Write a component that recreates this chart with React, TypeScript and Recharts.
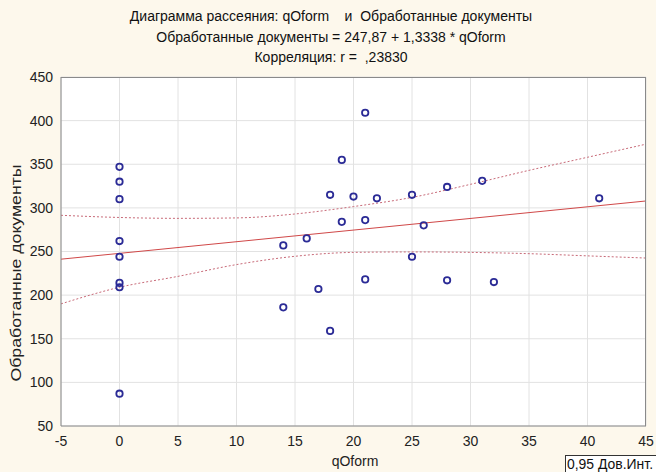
import React from "react";
import {
  ComposedChart,
  Scatter,
  Line,
  XAxis,
  YAxis,
  CartesianGrid,
} from "recharts";

// ---------------------------------------------------------------------------
// Data
// ---------------------------------------------------------------------------

const qOform = [
  0, 0, 0, 0, 0, 0, 0, 0, 14, 14, 16, 17, 18, 18, 19, 19, 20, 21, 21, 21, 22,
  25, 25, 26, 28, 28, 31, 32, 41,
];
const docs = [
  347, 330, 310, 262, 244, 214, 209, 87, 257, 186, 265, 207, 315, 159, 355,
  284, 313, 409, 286, 218, 311, 315, 244, 280, 324, 217, 331, 215, 311,
];

// regression line end points (247,87 + 1,3338 * qOform)
const fitX = [-5, 45];
const fitY = [241.2, 307.9];

// 0,95 confidence band
const bandX = [-5, 0, 5, 10, 15, 20, 25, 30, 35, 40, 45];
const bandUpper = [291.5, 289, 288, 288.5, 293, 301.5, 312, 327, 343, 358, 373];
const bandLower = [190, 209, 221.5, 235, 244.5, 249, 249.5, 249, 247.5, 245, 242.5];

const xTicks = [-5, 0, 5, 10, 15, 20, 25, 30, 35, 40, 45];
const yTicks = [50, 100, 150, 200, 250, 300, 350, 400, 450];

const titleLines = [
  "Диаграмма рассеяния: qOform    и  Обработанные документы",
  "Обработанные документы = 247,87 + 1,3338 * qOform",
  "Корреляция: r =  ,23830",
];

// ---------------------------------------------------------------------------

const FONT = '"Liberation Sans", Arial, sans-serif';
const BG = "#fdf8ec";

const points = qOform.map((x, i) => ({ x, y: docs[i] }));
const fitLine = fitX.map((x, i) => ({ x, y: fitY[i] }));
const upperLine = bandX.map((x, i) => ({ x, y: bandUpper[i] }));
const lowerLine = bandX.map((x, i) => ({ x, y: bandLower[i] }));

const Ring = (props: any) => (
  <circle
    cx={props.cx}
    cy={props.cy}
    r={3.2}
    fill="none"
    stroke="#2b2b96"
    strokeWidth={1.8}
  />
);

const YLabel = () => {
  const cx = 16;
  const cy = 273;
  return (
    <text
      x={cx}
      y={cy}
      transform={`rotate(-90, ${cx}, ${cy})`}
      textAnchor="middle"
      dominantBaseline="central"
      fontSize={14}
      fontFamily={FONT}
      fill="#222"
      textLength={217}
      lengthAdjust="spacingAndGlyphs"
    >
      Обработанные документы
    </text>
  );
};

export default function App() {
  const tickStyle = { fontSize: 14, fontFamily: FONT, fill: "#222" };
  return (
    <div
      style={{
        position: "absolute",
        left: 0,
        top: 0,
        width: 656,
        height: 472,
        background: BG,
        fontFamily: FONT,
        overflow: "hidden",
      }}
    >
      {titleLines.map((t, i) => (
        <div
          key={i}
          style={{
            position: "absolute",
            left: 0,
            width: 662,
            top: 8 + i * 20.5,
            textAlign: "center",
            fontSize: 14,
            color: "#111",
            whiteSpace: "pre",
          }}
        >
          {t}
        </div>
      ))}

      <ComposedChart
        width={656}
        height={472}
        margin={{ top: 77, right: 10, bottom: 0, left: 0 }}
        style={{ position: "absolute", left: 0, top: 0 }}
      >
        <CartesianGrid stroke="#e2e2e2" fill="#ffffff" />
        <XAxis
          type="number"
          dataKey="x"
          domain={[-5, 45]}
          ticks={xTicks}
          allowDataOverflow
          height={46}
          tick={tickStyle}
          tickLine={false}
          tickMargin={4}
          axisLine={{ stroke: "#8a8a8a" }}
        />
        <YAxis
          type="number"
          dataKey="y"
          domain={[50, 450]}
          ticks={yTicks}
          allowDataOverflow
          width={61}
          tick={tickStyle}
          tickLine={false}
          axisLine={{ stroke: "#8a8a8a" }}
          label={<YLabel />}
        />
        <Line
          data={upperLine}
          dataKey="y"
          type="monotone"
          stroke="#c86a78"
          strokeWidth={1}
          strokeDasharray="2 2"
          dot={false}
          activeDot={false}
          isAnimationActive={false}
        />
        <Line
          data={lowerLine}
          dataKey="y"
          type="monotone"
          stroke="#c86a78"
          strokeWidth={1}
          strokeDasharray="2 2"
          dot={false}
          activeDot={false}
          isAnimationActive={false}
        />
        <Line
          data={fitLine}
          dataKey="y"
          type="linear"
          stroke="#d04848"
          strokeWidth={1}
          dot={false}
          activeDot={false}
          isAnimationActive={false}
        />
        <Scatter
          data={points}
          dataKey="y"
          shape={<Ring />}
          isAnimationActive={false}
        />
      </ComposedChart>

      {/* right and top frame of the plot area */}
      <div
        style={{
          position: "absolute",
          left: 61,
          top: 77,
          width: 585,
          height: 349,
          borderTop: "1px solid #8a8a8a",
          borderRight: "1px solid #8a8a8a",
          boxSizing: "border-box",
          pointerEvents: "none",
        }}
      />

      <div
        style={{
          position: "absolute",
          left: 0,
          width: 710,
          top: 453,
          textAlign: "center",
          fontSize: 14,
          color: "#222",
        }}
      >
        qOform
      </div>

      <svg
        width={91}
        height={17}
        style={{ position: "absolute", left: 565, top: 455 }}
      >
        <rect x={0.5} y={0.5} width={100} height={30} fill="#ffffff" stroke="#333" />
        <text
          x={2}
          y={14}
          fontSize={14}
          fontFamily={FONT}
          fill="#111"
          textLength={86}
          lengthAdjust="spacingAndGlyphs"
        >
          0,95 Дов.Инт.
        </text>
      </svg>
    </div>
  );
}
